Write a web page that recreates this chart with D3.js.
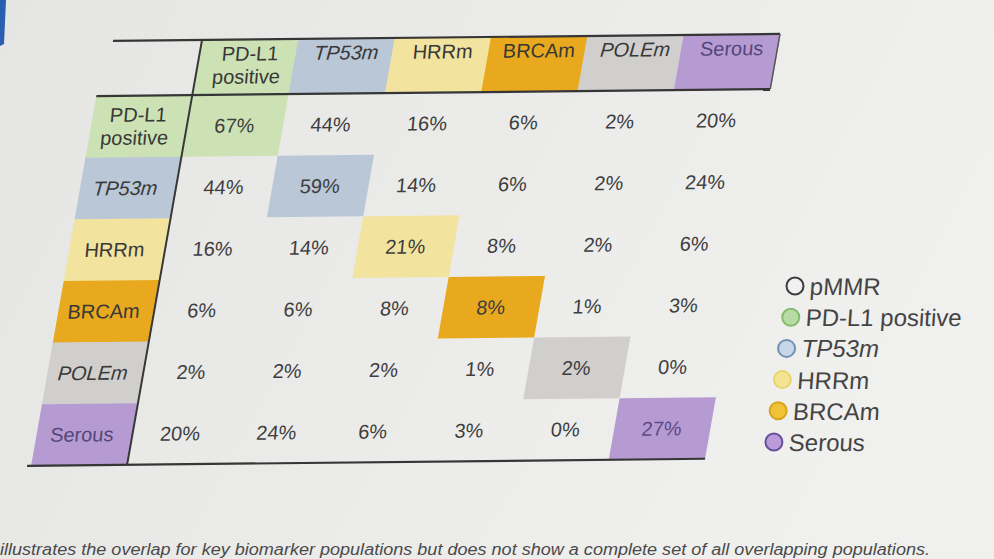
<!DOCTYPE html>
<html>
<head>
<meta charset="utf-8">
<script src="https://cdn.jsdelivr.net/npm/d3@7"></script>
<style>
  html, body { margin: 0; padding: 0; background: #ebebea; }
  svg { display: block; font-family: "Liberation Sans", Arial, sans-serif; }
</style>
</head>
<body>
<div id="chart"></div>
<script>
// biomarker overlap matrix (percent of patients)
var categories = ["PD-L1 positive", "TP53m", "HRRm", "BRCAm", "POLEm", "Serous"];
var overlap = [
  [67, 44, 16, 6, 2, 20],
  [44, 59, 14, 6, 2, 24],
  [16, 14, 21, 8, 2, 6],
  [6, 6, 8, 8, 1, 3],
  [2, 2, 2, 1, 2, 0],
  [20, 24, 6, 3, 0, 27]
];
var catColors = ["#cde2b4", "#b9c7d6", "#f2e39f", "#e9a91e", "#d0cfcd", "#b69bd2"];
var italicCats = ["TP53m", "POLEm"];

var legendLabels = ["pMMR", "PD-L1 positive", "TP53m", "HRRm", "BRCAm", "Serous"];
var legendFill = ["#f1f1f1", "#b9dca4", "#c6d7e8", "#f2e490", "#efc237", "#b99cd9"];
var legendStroke = ["#3c3c3c", "#84bb6c", "#7391b2", "#e8d56e", "#d6a51a", "#67509a"];

var footnote = "illustrates the overlap for key biomarker populations but does not show a complete set of all overlapping populations.";

var width = 994, height = 559;
var tableW = 578, headerH = 55, tableH = 424, labelW = 96;

var svg = d3.select("#chart").append("svg")
    .attr("width", width)
    .attr("height", height);

var grad = svg.append("defs").append("linearGradient")
    .attr("id", "bg")
    .attr("x1", "0").attr("x2", "1").attr("y1", "0").attr("y2", "0.3");
grad.append("stop").attr("offset", "0").attr("stop-color", "#e5e5e4");
grad.append("stop").attr("offset", "1").attr("stop-color", "#f0f0ef");

svg.append("rect")
    .attr("width", width).attr("height", height)
    .attr("fill", "url(#bg)");

// bit of the slide frame visible top-left
svg.append("path")
    .attr("d", "M0,0 L6,0 L4,44 L0,46 Z")
    .attr("fill", "#2a5fb0");

var x = d3.scaleBand()
    .domain(d3.range(categories.length))
    .range([0, tableW]);

var y = d3.scaleBand()
    .domain(d3.range(categories.length))
    .range([headerH, tableH]);

// photo is taken at an angle, so the table is skewed
var table = svg.append("g")
    .attr("transform", "translate(202,40) rotate(-0.6) skewX(-10.6)");

function fontStyle(name) {
  return italicCats.indexOf(name) >= 0 ? "italic" : "normal";
}
function textColor(i) {
  return categories[i] === "Serous" ? "#54467a" : "#383838";
}
// text is less slanted than the grid lines
function place(px, py) {
  return "translate(" + px + "," + py + ") skewX(5)";
}

// column header cells
table.selectAll(".colhead")
  .data(categories)
  .enter()
  .append("rect")
  .attr("class", "colhead")
  .attr("x", function(d, i) { return x(i); })
  .attr("y", 0)
  .attr("width", x.bandwidth() + 0.5)
  .attr("height", headerH)
  .attr("fill", function(d, i) { return catColors[i]; });

// row header cells
table.selectAll(".rowhead")
  .data(categories)
  .enter()
  .append("rect")
  .attr("class", "rowhead")
  .attr("x", -labelW)
  .attr("y", function(d, i) { return y(i); })
  .attr("width", labelW)
  .attr("height", y.bandwidth() + 0.5)
  .attr("fill", function(d, i) { return catColors[i]; });

// diagonal cells
table.selectAll(".diag")
  .data(categories)
  .enter()
  .append("rect")
  .attr("class", "diag")
  .attr("x", function(d, i) { return x(i); })
  .attr("y", function(d, i) { return y(i); })
  .attr("width", x.bandwidth())
  .attr("height", y.bandwidth())
  .attr("fill", function(d, i) { return catColors[i]; });

// column header labels (top aligned)
categories.forEach(function(name, i) {
  var lines = name === "PD-L1 positive" ? ["PD-L1", "positive"] : [name];
  lines.forEach(function(line, j) {
    table.append("text")
      .attr("transform", place(x(i) + x.bandwidth() / 2 + 3, 21 + j * 23))
      .attr("text-anchor", "middle")
      .attr("font-size", 20)
      .attr("font-style", fontStyle(name))
      .attr("fill", textColor(i))
      .text(line);
  });
});

// row header labels
categories.forEach(function(name, i) {
  var lines = name === "PD-L1 positive" ? ["PD-L1", "positive"] : [name];
  lines.forEach(function(line, j) {
    var cy = y(i) + y.bandwidth() / 2;
    var yy = lines.length === 2 ? y(i) + 26 + j * 23 : cy + 7;
    table.append("text")
      .attr("transform", place(-labelW / 2 - 2, yy))
      .attr("text-anchor", "middle")
      .attr("font-size", 20)
      .attr("font-style", fontStyle(name))
      .attr("fill", textColor(i))
      .text(line);
  });
});

// values
var cells = [];
overlap.forEach(function(row, r) {
  row.forEach(function(v, c) { cells.push({ r: r, c: c, v: v }); });
});

table.selectAll(".val")
  .data(cells)
  .enter()
  .append("text")
  .attr("class", "val")
  .attr("transform", function(d) {
    return place(x(d.c) + x.bandwidth() / 2, y(d.r) + y.bandwidth() / 2 + 7);
  })
  .attr("text-anchor", "middle")
  .attr("font-size", 20)
  .attr("fill", function(d) { return d.r === 5 && d.c === 5 ? "#5e4a86" : "#3e3e3e"; })
  .text(function(d) { return d.v + "%"; });

// rules
var lineColor = "#363636";
table.append("line")
  .attr("x1", -89).attr("x2", tableW).attr("y1", 0).attr("y2", 0)
  .attr("stroke", lineColor).attr("stroke-width", 2.2);
table.append("line")
  .attr("x1", -labelW).attr("x2", tableW).attr("y1", headerH).attr("y2", headerH)
  .attr("stroke", lineColor).attr("stroke-width", 2.2);
table.append("line")
  .attr("x1", -labelW - 4).attr("x2", tableW).attr("y1", tableH).attr("y2", tableH)
  .attr("stroke", lineColor).attr("stroke-width", 2.2);
table.append("line")
  .attr("x1", 0).attr("x2", 0).attr("y1", 0).attr("y2", tableH)
  .attr("stroke", lineColor).attr("stroke-width", 2);
table.append("line")
  .attr("x1", tableW).attr("x2", tableW).attr("y1", 0).attr("y2", headerH)
  .attr("stroke", "#555").attr("stroke-width", 1.5);

// legend: items drift left going down, as in the photo
var legendStep = 31.2;
var item = svg.selectAll(".item")
  .data(legendLabels)
  .enter()
  .append("g")
  .attr("class", "item")
  .attr("transform", function(d, i) {
    return "translate(" + (795 - 0.135 * i * legendStep) + "," + (286 + i * legendStep) + ")";
  });

item.append("circle")
  .attr("r", 8.5)
  .attr("fill", function(d, i) { return legendFill[i]; })
  .attr("stroke", function(d, i) { return legendStroke[i]; })
  .attr("stroke-width", 2);

item.append("text")
  .attr("x", 15)
  .attr("y", 9)
  .attr("font-size", 24)
  .attr("font-style", function(d) { return d === "TP53m" ? "italic" : "normal"; })
  .attr("transform", function(d) { return d === "TP53m" ? null : "skewX(-4)"; })
  .attr("fill", "#444")
  .text(function(d) { return d; });

// footnote
svg.append("text")
  .attr("x", 0)
  .attr("y", 555)
  .attr("font-size", 16)
  .attr("font-style", "italic")
  .attr("fill", "#4a4a4a")
  .attr("textLength", 930)
  .attr("lengthAdjust", "spacingAndGlyphs")
  .text(footnote);
</script>
</body>
</html>
